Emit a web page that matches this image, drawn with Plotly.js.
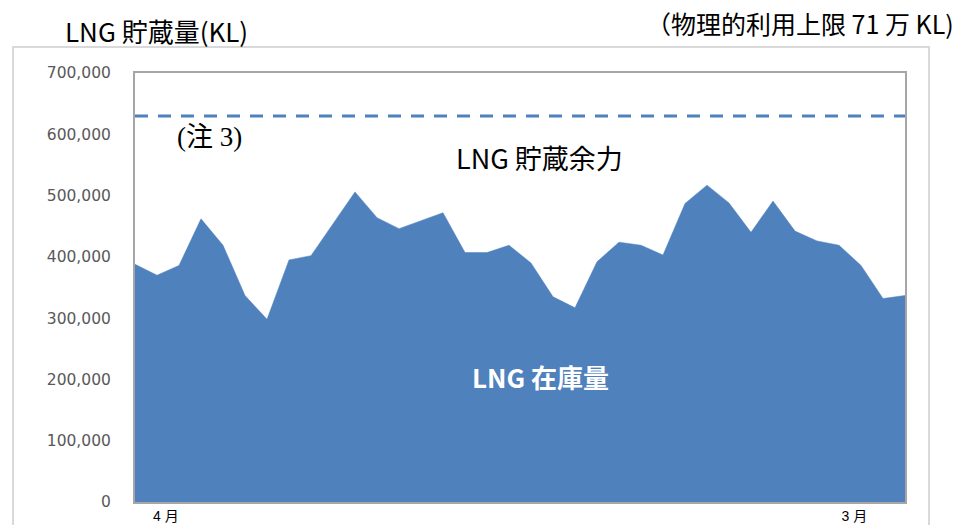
<!DOCTYPE html>
<html>
<head>
<meta charset="utf-8">
<script src="https://cdn.plot.ly/plotly-3.0.1.min.js"></script>
<style>
  html, body { margin: 0; padding: 0; background: #ffffff; }
  #chart { width: 958px; height: 525px; }
  #chart text { text-spacing-trim: space-all; }
</style>
</head>
<body>
<div id="chart"></div>
<script>
// 旬別 (上旬・中旬・下旬) periods, April to March
const months = ['4月','5月','6月','7月','8月','9月','10月','11月','12月','1月','2月','3月'];
const thirds = ['上旬','中旬','下旬'];
const periods = [];
months.forEach(m => thirds.forEach(t => periods.push(m + t)));

// LNG inventory (KL)
const inventory = [
  388000, 370000, 386000, 462000, 419000, 337000, 298000, 395000, 402000,
  453000, 506000, 464000, 446000, 459000, 472000, 407000, 407000, 419000,
  390000, 335000, 317000, 392000, 424000, 419000, 403000, 487000, 517000,
  488000, 440000, 491000, 442000, 426000, 419000, 386000, 332000, 337000
];

// storage limit line (KL)
const storageLimit = 630000;

const yTickVals = [0, 100000, 200000, 300000, 400000, 500000, 600000, 700000];
const yTickText = ['0', '100,000', '200,000', '300,000', '400,000', '500,000', '600,000', '700,000'];
const xTickText = ['4 月', '3 月'];

const xIdx = periods.map((_, i) => i);
const lastIdx = periods.length - 1;

const jp = '"Noto Sans CJK JP", "Noto Sans", sans-serif';

const traces = [
  {
    x: xIdx,
    y: inventory,
    text: periods,
    type: 'scatter',
    mode: 'lines',
    fill: 'tozeroy',
    fillcolor: '#4f81bd',
    line: { color: '#4f81bd', width: 0.5 },
    hovertemplate: '%{text}: %{y:,}<extra></extra>'
  },
  {
    x: [0, lastIdx],
    y: [storageLimit, storageLimit],
    type: 'scatter',
    mode: 'lines',
    line: { color: '#4f81bd', width: 3, dash: '13px,10px' },
    hoverinfo: 'skip'
  }
];

const layout = {
  width: 958,
  height: 525,
  margin: { l: 135, r: 53, t: 73, b: 23 },
  paper_bgcolor: '#ffffff',
  plot_bgcolor: '#ffffff',
  showlegend: false,
  xaxis: {
    range: [0, lastIdx],
    showgrid: false,
    zeroline: false,
    showline: true,
    mirror: true,
    linecolor: '#a6a6a6',
    linewidth: 2,
    tickmode: 'array',
    tickvals: [1.4, 32.7],
    ticktext: xTickText,
    ticks: '',
    tickfont: { family: 'Liberation Sans, "Noto Sans CJK JP", sans-serif', size: 14, color: '#000000' }
  },
  yaxis: {
    range: [0, 700000],
    showgrid: false,
    zeroline: false,
    showline: true,
    mirror: true,
    linecolor: '#a6a6a6',
    linewidth: 2,
    tickmode: 'array',
    tickvals: yTickVals,
    ticktext: yTickText,
    ticks: 'outside',
    ticklen: 19,
    tickcolor: 'rgba(0,0,0,0)',
    tickfont: { family: 'DejaVu Sans, Verdana, sans-serif', size: 15.5, color: '#595959' }
  },
  shapes: [
    {
      type: 'rect', xref: 'paper', yref: 'paper',
      x0: -0.1584, x1: 1.0312, y0: -0.09, y1: 1.0606,
      line: { color: '#d9d9d9', width: 2 },
      fillcolor: 'rgba(0,0,0,0)',
      layer: 'below'
    }
  ],
  annotations: [
    {
      text: 'LNG 貯蔵量(KL)', xref: 'paper', yref: 'paper',
      x: -0.0935, y: 1.098, xanchor: 'left', yanchor: 'middle', showarrow: false,
      font: { family: jp, size: 26, color: '#000000' }
    },
    {
      text: '（物理的利用上限 71 万 KL)', xref: 'paper', yref: 'paper',
      x: 1.066, y: 1.1166, xanchor: 'right', yanchor: 'middle', showarrow: false,
      font: { family: jp, size: 25, color: '#000000' }
    },
    {
      text: '(注 3)', xref: 'paper', yref: 'paper',
      x: 0.0519, y: 0.8508, xanchor: 'left', yanchor: 'middle', showarrow: false,
      font: { family: 'Liberation Serif, "Times New Roman", "Noto Sans CJK JP", serif', size: 27, color: '#000000' }
    },
    {
      text: 'LNG 貯蔵余力', xref: 'paper', yref: 'paper',
      x: 0.5247, y: 0.8019, xanchor: 'center', yanchor: 'middle', showarrow: false,
      font: { family: jp, size: 27, color: '#000000' }
    },
    {
      text: '<b>LNG 在庫量</b>', xref: 'paper', yref: 'paper',
      x: 0.526, y: 0.2937, xanchor: 'center', yanchor: 'middle', showarrow: false,
      font: { family: jp, size: 26, color: '#ffffff' }
    }
  ]
};

Plotly.newPlot('chart', traces, layout, { displayModeBar: false, staticPlot: true });
</script>
</body>
</html>
